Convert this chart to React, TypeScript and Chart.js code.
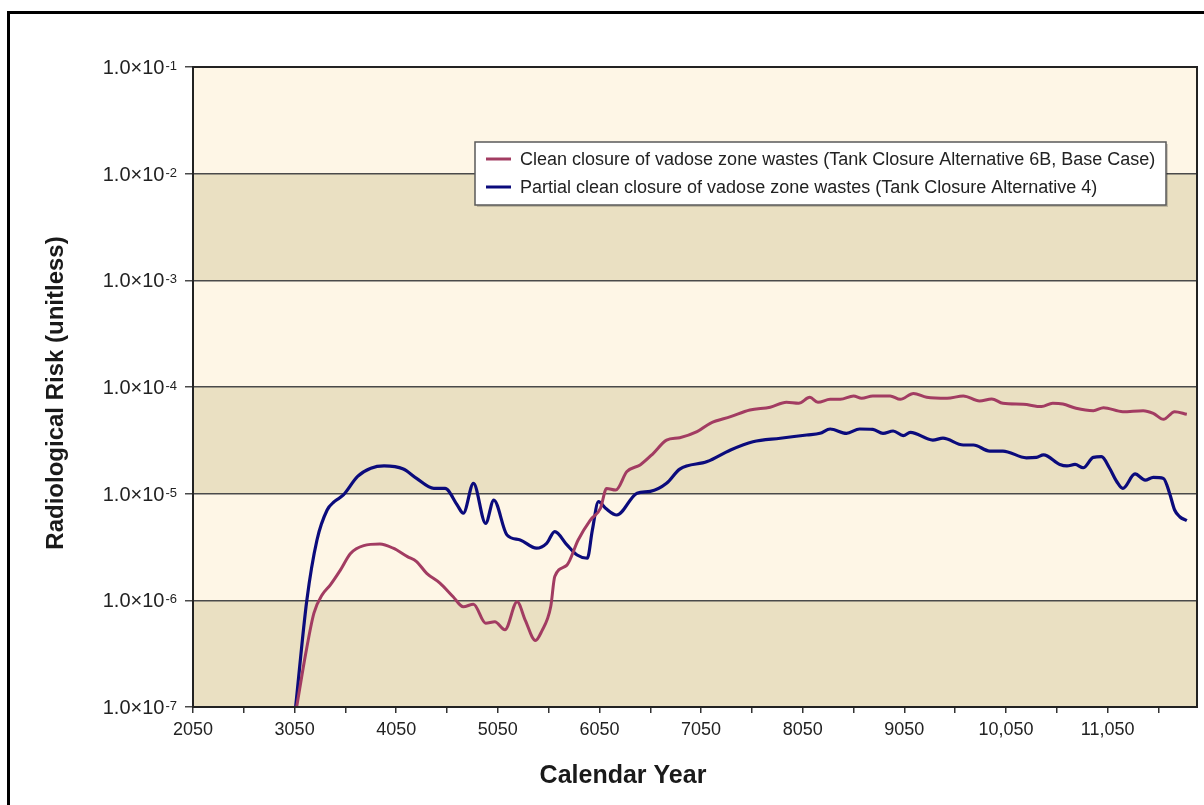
import React, { useEffect, useRef } from "react";
import { Chart, registerables } from "chart.js";

Chart.register(...registerables);

const seriesLabels = [
  "Clean closure of vadose zone wastes (Tank Closure Alternative 6B, Base Case)",
  "Partial clean closure of vadose zone wastes (Tank Closure Alternative 4)",
];
const seriesColors = ["#A23C62", "#0B0B7C"];

const cleanYears = [3070, 3160, 3240, 3320, 3400, 3500, 3600, 3730, 3890, 4020, 4160, 4250, 4350, 4480, 4610, 4710, 4810, 4930, 5020, 5120, 5240, 5320, 5420, 5480, 5570, 5610, 5730, 5840, 5960, 6060, 6120, 6210, 6320, 6450, 6580, 6710, 6840, 7010, 7140, 7340, 7530, 7730, 7890, 8010, 8120, 8200, 8320, 8420, 8550, 8630, 8740, 8910, 9010, 9140, 9270, 9470, 9630, 9790, 9910, 10020, 10220, 10400, 10510, 10610, 10740, 10910, 11010, 11200, 11400, 11500, 11600, 11710, 11830];
const cleanRisk = [1.0e-7, 3.2e-7, 7.6e-7, 1.12e-6, 1.39e-6, 1.92e-6, 2.75e-6, 3.26e-6, 3.37e-6, 3.08e-6, 2.57e-6, 2.31e-6, 1.79e-6, 1.45e-6, 1.08e-6, 8.7e-7, 9.2e-7, 6.1e-7, 6.3e-7, 5.3e-7, 9.7e-7, 6.5e-7, 4.2e-7, 5.1e-7, 8.7e-7, 1.67e-6, 2.14e-6, 3.68e-6, 5.66e-6, 7.3e-6, 1.12e-5, 1.08e-5, 1.61e-5, 1.86e-5, 2.39e-5, 3.18e-5, 3.35e-5, 3.81e-5, 4.57e-5, 5.27e-5, 6.08e-5, 6.46e-5, 7.18e-5, 7.03e-5, 8.0e-5, 7.18e-5, 7.66e-5, 7.66e-5, 8.24e-5, 7.83e-5, 8.24e-5, 8.24e-5, 7.66e-5, 8.71e-5, 8.0e-5, 7.83e-5, 8.24e-5, 7.4e-5, 7.73e-5, 7.03e-5, 6.89e-5, 6.55e-5, 7.03e-5, 6.92e-5, 6.31e-5, 6.0e-5, 6.4e-5, 5.87e-5, 6.0e-5, 5.66e-5, 4.98e-5, 5.87e-5, 5.55e-5];

const partialYears = [3060, 3170, 3270, 3370, 3440, 3530, 3670, 3800, 3930, 4120, 4250, 4420, 4530, 4650, 4710, 4810, 4930, 5010, 5140, 5270, 5430, 5530, 5610, 5730, 5830, 5930, 5980, 6040, 6110, 6220, 6420, 6550, 6710, 6840, 7110, 7340, 7560, 7830, 8090, 8220, 8320, 8480, 8610, 8740, 8840, 8940, 9040, 9110, 9330, 9430, 9630, 9730, 9890, 10020, 10250, 10350, 10420, 10580, 10650, 10730, 10810, 10910, 10990, 11070, 11140, 11200, 11320, 11420, 11500, 11600, 11660, 11710, 11760, 11830];
const partialRisk = [1.0e-7, 1.0e-6, 3.68e-6, 7.03e-6, 8.41e-6, 9.73e-6, 1.45e-5, 1.73e-5, 1.82e-5, 1.70e-5, 1.39e-5, 1.12e-5, 1.12e-5, 7.83e-6, 6.55e-6, 1.25e-5, 5.27e-6, 8.71e-6, 4.1e-6, 3.68e-6, 3.08e-6, 3.42e-6, 4.41e-6, 3.31e-6, 2.66e-6, 2.48e-6, 4.57e-6, 8.41e-6, 7.3e-6, 6.31e-6, 1.01e-5, 1.05e-5, 1.25e-5, 1.70e-5, 2.0e-5, 2.57e-5, 3.07e-5, 3.31e-5, 3.55e-5, 3.68e-5, 4.04e-5, 3.68e-5, 4.04e-5, 4.01e-5, 3.68e-5, 3.87e-5, 3.5e-5, 3.76e-5, 3.18e-5, 3.31e-5, 2.86e-5, 2.86e-5, 2.51e-5, 2.51e-5, 2.17e-5, 2.19e-5, 2.31e-5, 1.88e-5, 1.82e-5, 1.88e-5, 1.75e-5, 2.19e-5, 2.22e-5, 1.73e-5, 1.30e-5, 1.12e-5, 1.53e-5, 1.34e-5, 1.42e-5, 1.39e-5, 1.01e-5, 7.03e-6, 6.08e-6, 5.58e-6];

const xTickValues = [2050, 2550, 3050, 3550, 4050, 4550, 5050, 5550, 6050, 6550, 7050, 7550, 8050, 8550, 9050, 9550, 10050, 10550, 11050, 11550];
const xLabeledTicks = [2050, 3050, 4050, 5050, 6050, 7050, 8050, 9050, 10050, 11050];
const yTickValues = [1e-7, 1e-6, 1e-5, 1e-4, 1e-3, 1e-2, 1e-1];

const xTitle = "Calendar Year";
const yTitle = "Radiological Risk (unitless)";

const FONT = '"Liberation Sans", Arial, Helvetica, sans-serif';
const BAND_LIGHT = "#FEF6E6";
const BAND_DARK = "#EAE0C2";

const bandsPlugin = {
  id: "bands",
  beforeDraw(chart: any) {
    const { ctx, chartArea, scales } = chart;
    const y = scales.y;
    ctx.save();
    for (let i = 0; i < yTickValues.length - 1; i++) {
      const top = y.getPixelForValue(yTickValues[i + 1]);
      const bottom = y.getPixelForValue(yTickValues[i]);
      ctx.fillStyle = i % 2 === 0 ? BAND_DARK : BAND_LIGHT;
      ctx.fillRect(chartArea.left, top, chartArea.right - chartArea.left, bottom - top);
    }
    ctx.restore();
  },
};

const decorPlugin = {
  id: "decor",
  afterDraw(chart: any) {
    const { ctx, chartArea, scales } = chart;
    const y = scales.y;
    ctx.save();
    // plot frame (top and right)
    ctx.strokeStyle = "#222";
    ctx.lineWidth = 2;
    ctx.strokeRect(chartArea.left, chartArea.top, chartArea.right - chartArea.left, chartArea.bottom - chartArea.top);

    // y tick labels with superscript exponents
    ctx.fillStyle = "#222";
    const rightEdge = chartArea.left - 16;
    for (const v of yTickValues) {
      const py = y.getPixelForValue(v);
      const exp = String(Math.round(Math.log10(v)));
      ctx.font = `13px ${FONT}`;
      ctx.textAlign = "right";
      ctx.textBaseline = "alphabetic";
      const ew = ctx.measureText(exp).width;
      ctx.fillText(exp, rightEdge, py + 3);
      ctx.font = `20px ${FONT}`;
      ctx.fillText("1.0\u00D710", rightEdge - ew - 1, py + 7);
    }

    // axis titles
    ctx.font = `bold 25px ${FONT}`;
    ctx.textAlign = "center";
    ctx.textBaseline = "alphabetic";
    ctx.fillStyle = "#1a1a1a";
    ctx.fillText(xTitle, 623, 783);

    ctx.save();
    ctx.translate(63, 393);
    ctx.rotate(-Math.PI / 2);
    ctx.font = `bold 24px ${FONT}`;
    ctx.fillText(yTitle, 0, 0);
    ctx.restore();

    // legend
    const lx = 475, ly = 142, lw = 691, lh = 63;
    ctx.fillStyle = "rgba(0,0,0,0.18)";
    ctx.fillRect(lx + 2, ly + 2, lw, lh);
    ctx.fillStyle = "#FFFFFF";
    ctx.fillRect(lx, ly, lw, lh);
    ctx.strokeStyle = "#5a5a5a";
    ctx.lineWidth = 1.5;
    ctx.strokeRect(lx, ly, lw, lh);
    chart.data.datasets.forEach((ds: any, i: number) => {
      const cy = ly + 17 + i * 28;
      ctx.strokeStyle = ds.borderColor;
      ctx.lineWidth = 3;
      ctx.beginPath();
      ctx.moveTo(lx + 11, cy);
      ctx.lineTo(lx + 36, cy);
      ctx.stroke();
      ctx.fillStyle = "#222";
      ctx.font = `18px ${FONT}`;
      ctx.textAlign = "left";
      ctx.textBaseline = "middle";
      ctx.fillText(ds.label, lx + 45, cy + 1);
    });

    // outer frame
    ctx.strokeStyle = "#000";
    ctx.lineWidth = 3;
    ctx.beginPath();
    ctx.moveTo(8.5, 805);
    ctx.lineTo(8.5, 12.5);
    ctx.lineTo(1204, 12.5);
    ctx.stroke();
    ctx.restore();
  },
};

export default function App() {
  const canvasRef = useRef<HTMLCanvasElement | null>(null);

  useEffect(() => {
    const canvas = canvasRef.current;
    if (!canvas) return;
    const chart = new Chart(canvas, {
      type: "line",
      data: {
        datasets: [
          {
            label: seriesLabels[0],
            data: cleanYears.map((x, i) => ({ x, y: cleanRisk[i] })),
            borderColor: seriesColors[0],
            backgroundColor: seriesColors[0],
            borderWidth: 3,
            pointRadius: 0,
            cubicInterpolationMode: "monotone",
          },
          {
            label: seriesLabels[1],
            data: partialYears.map((x, i) => ({ x, y: partialRisk[i] })),
            borderColor: seriesColors[1],
            backgroundColor: seriesColors[1],
            borderWidth: 3.2,
            pointRadius: 0,
            cubicInterpolationMode: "monotone",
          },
        ],
      },
      options: {
        animation: false,
        responsive: false,
        devicePixelRatio: 1,
        layout: { padding: { left: 0, top: 67, right: 7, bottom: 0 } },
        plugins: {
          legend: { display: false },
          tooltip: { enabled: false },
        },
        scales: {
          x: {
            type: "linear",
            min: 2050,
            max: 11930,
            afterBuildTicks: (s: any) => {
              s.ticks = xTickValues.map((value) => ({ value }));
            },
            afterFit: (s: any) => {
              s.height = 98;
            },
            ticks: {
              autoSkip: false,
              maxRotation: 0,
              padding: 6,
              color: "#222",
              font: { family: FONT, size: 18 },
              callback: (v: any) => {
                const n = Number(v);
                if (!xLabeledTicks.includes(n)) return "";
                return n >= 10000 ? n.toLocaleString("en-US") : String(n);
              },
            },
            grid: {
              drawOnChartArea: false,
              drawTicks: true,
              tickLength: 6,
              color: "#333",
              lineWidth: 1.5,
            },
            border: { color: "#222", width: 2 },
          },
          y: {
            type: "logarithmic",
            min: 1e-7,
            max: 1e-1,
            afterBuildTicks: (s: any) => {
              s.ticks = yTickValues.map((value) => ({ value }));
            },
            afterFit: (s: any) => {
              s.width = 193;
            },
            ticks: { display: false },
            grid: {
              color: "#4a4a4a",
              lineWidth: 1.5,
              drawTicks: true,
              tickLength: 8,
            },
            border: { color: "#222", width: 2 },
          },
        },
      },
      plugins: [bandsPlugin, decorPlugin],
    });
    return () => chart.destroy();
  }, []);

  return (
    <div style={{ position: "fixed", left: 0, top: 0, width: 1204, height: 805, background: "#fff" }}>
      <canvas ref={canvasRef} width={1204} height={805} style={{ display: "block" }} />
    </div>
  );
}
